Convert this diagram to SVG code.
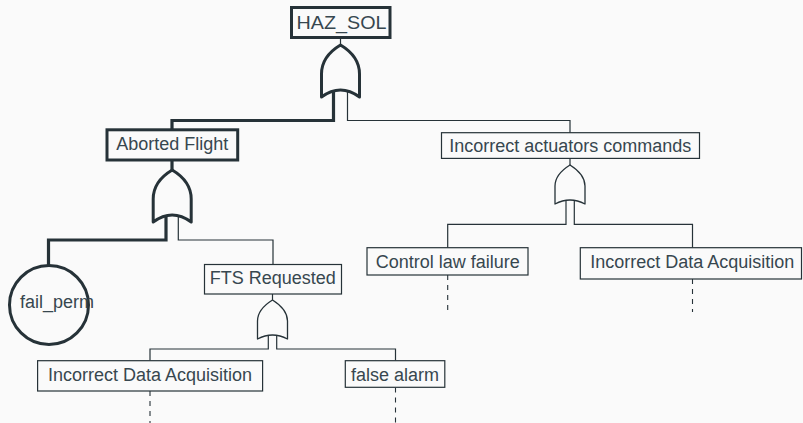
<svg xmlns="http://www.w3.org/2000/svg" width="803" height="423" viewBox="0 0 803 423">
<style>
.bg{fill:#fafafa}
.box{fill:#fafafa;stroke:#263238;stroke-width:1.2}
.box.thick{stroke-width:3}
.lbl{font-family:"Liberation Sans",Arial,sans-serif;font-size:18px;fill:#37474f;text-anchor:middle}
.gate{fill:#fafafa;stroke:#263238;stroke-width:1.3;stroke-linejoin:round}
.gate.thick{stroke-width:3}
.ln{fill:none;stroke:#263238;stroke-width:1.2}
.ln.thick{stroke-width:3.2}
.dash{fill:none;stroke:#263238;stroke-width:1.1;stroke-dasharray:5,5}
</style>
<defs>
<path id="orBig" d="M0,0 C-10,6 -19,15 -19,29 L-19,52 Q0,38 19,52 L19,29 C19,15 10,6 0,0 Z"/>
<path id="orSmall" d="M0,0 C-8,5 -15,11 -15,21 L-15,39 Q0,31 15,39 L15,21 C15,11 8,5 0,0 Z"/>
</defs>
<rect class="bg" x="0" y="0" width="803" height="423"/>
<g id="connectors">
<!-- HAZ_SOL gate -->
<line class="ln" x1="340.5" y1="39" x2="340.5" y2="46"/>
<polyline class="ln thick" points="333.5,88 333.5,120.5 172,120.5 172,129"/>
<polyline class="ln" points="347.5,88 347.5,120.5 570,120.5 570,133"/>
<!-- Aborted Flight gate -->
<line class="ln thick" x1="172" y1="161" x2="172" y2="171"/>
<polyline class="ln thick" points="166,210 166,240 48.5,240 48.5,265"/>
<polyline class="ln" points="178.3,210 178.3,240 273,240 273,264.5"/>
<!-- FTS Requested gate -->
<line class="ln" x1="272.5" y1="294" x2="272.5" y2="300"/>
<polyline class="ln" points="268.3,332 268.3,349 150,349 150,360.5"/>
<polyline class="ln" points="276.7,332 276.7,349 395.5,349 395.5,360.5"/>
<!-- Incorrect actuators commands gate -->
<line class="ln" x1="570" y1="158.5" x2="570" y2="165"/>
<polyline class="ln" points="566,196 566,224.3 447.7,224.3 447.7,247.7"/>
<polyline class="ln" points="574.3,196 574.3,224.3 692.5,224.3 692.5,247.7"/>
<!-- undeveloped branches -->
<line class="dash" x1="447.7" y1="275" x2="447.7" y2="310"/>
<line class="dash" x1="692.5" y1="279" x2="692.5" y2="312"/>
<line class="dash" x1="150" y1="391" x2="150" y2="423"/>
<line class="dash" x1="395.5" y1="387.5" x2="395.5" y2="423"/>
</g>
<g id="haz_sol">
<rect class="box thick" x="291.5" y="7.5" width="98.5" height="30"/>
<text class="lbl" x="341.5" y="28.5" textLength="90" lengthAdjust="spacingAndGlyphs">HAZ_SOL</text>
</g>
<g id="gate_haz_sol">
<use href="#orBig" class="gate thick" transform="translate(340.5,45)"/>
</g>
<g id="aborted_flight">
<rect class="box thick" x="107" y="129.8" width="130.7" height="30.2"/>
<text class="lbl" x="172.3" y="150.3">Aborted Flight</text>
</g>
<g id="gate_aborted_flight">
<use href="#orBig" class="gate thick" transform="translate(172.2,170)"/>
</g>
<g id="incorrect_actuators_commands">
<rect class="box" x="441.5" y="132.7" width="258" height="25.7"/>
<text class="lbl" x="570.3" y="151.7">Incorrect actuators commands</text>
</g>
<g id="gate_incorrect_actuators_commands">
<use href="#orSmall" class="gate" transform="translate(570,165)"/>
</g>
<g id="fail_perm">
<circle cx="49" cy="305" r="39.5" fill="#fafafa" stroke="#263238" stroke-width="3"/>
<text class="lbl" x="57" y="308.3">fail_perm</text>
</g>
<g id="fts_requested">
<rect class="box" x="204.5" y="264.5" width="137" height="29.5"/>
<text class="lbl" x="272.8" y="283.5">FTS Requested</text>
</g>
<g id="gate_fts_requested">
<use href="#orSmall" class="gate" transform="translate(272.5,300)"/>
</g>
<g id="control_law_failure">
<rect class="box" x="367" y="247.7" width="161" height="27.3"/>
<text class="lbl" x="447.8" y="268.3">Control law failure</text>
</g>
<g id="incorrect_data_acquisition_right">
<rect class="box" x="580.3" y="247.7" width="221.2" height="31.3"/>
<text class="lbl" x="692.3" y="268.3">Incorrect Data Acquisition</text>
</g>
<g id="incorrect_data_acquisition_left">
<rect class="box" x="37.6" y="360.7" width="225" height="30.3"/>
<text class="lbl" x="150" y="380.7">Incorrect Data Acquisition</text>
</g>
<g id="false_alarm">
<rect class="box" x="345.3" y="360.7" width="99.5" height="26.6"/>
<text class="lbl" x="395" y="380.7">false alarm</text>
</g>
</svg>
